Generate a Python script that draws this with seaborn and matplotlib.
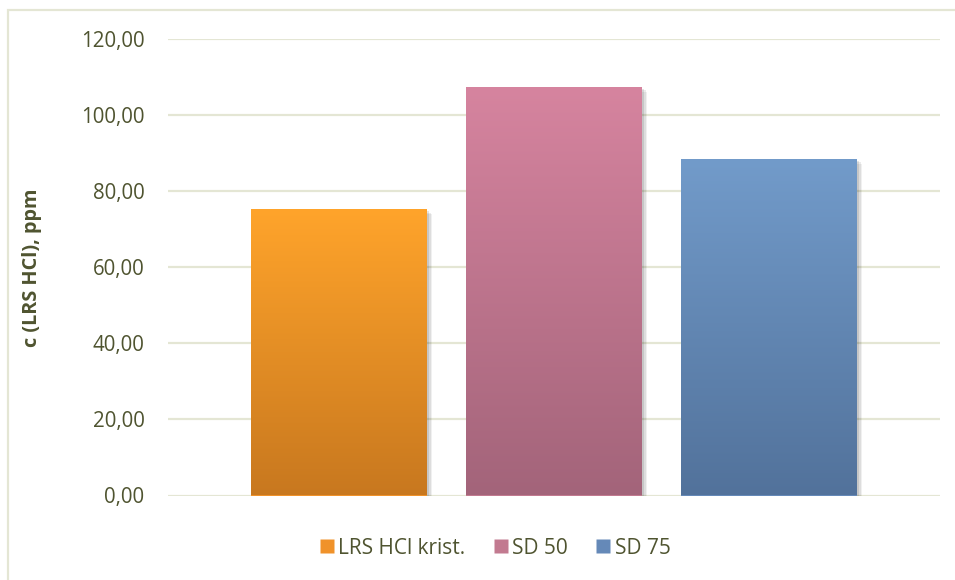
import numpy as np
import pandas as pd
import matplotlib
matplotlib.use("Agg")
import matplotlib.pyplot as plt
import matplotlib.patheffects as pe
from matplotlib.colors import LinearSegmentedColormap
from matplotlib.patches import Rectangle
from matplotlib.lines import Line2D
from matplotlib.ticker import FuncFormatter, MultipleLocator
import seaborn as sns

# ---- data ----
categories = ["c"]
series = ["LRS HCl krist.", "SD 50", "SD 75"]
values = [75.1, 107.2, 88.3]
ylabel = "c (LRS HCl), ppm"

top_colors = ["#FFA42B", "#D6849F", "#729BCA"]
bottom_colors = ["#C8781F", "#A3647A", "#52729B"]
mid_colors = ["#F0922A", "#C27A90", "#6589B8"]

text_color = "#4F5430"
grid_color = "#E4E6D4"

sns.set_theme(style="white")
plt.rcParams["font.family"] = ["Open Sans", "DejaVu Sans"]

W, H = 955, 580
fig = plt.figure(figsize=(W / 100, H / 100), dpi=100)
ax = fig.add_axes([168 / W, 1 - 495.5 / H, (940 - 168) / W, (495.5 - 39) / H])

df = pd.DataFrame({"cat": categories * len(series), "series": series, "value": values})
sns.barplot(data=df, x="cat", y="value", hue="series", palette=mid_colors,
            width=0.8355, gap=0.186, ax=ax, legend=False, saturation=1)

ax.set_xlim(-0.5, 0.5)
ax.set_ylim(0, 120)
ax.yaxis.set_major_locator(MultipleLocator(20))
ax.yaxis.set_major_formatter(FuncFormatter(lambda v, p: f"{v:.2f}".replace(".", ",")))
ax.grid(axis="y", color=grid_color, linewidth=1.6)
ax.set_axisbelow(True)
for s in ax.spines.values():
    s.set_visible(False)
ax.tick_params(axis="y", length=0, pad=17, labelsize=14.8, labelcolor=text_color)
ax.set_xticks([])
ax.set_xlabel("")
ax.set_ylabel(ylabel, fontsize=14.3, fontweight="bold", color=text_color)
ax.yaxis.set_label_coords(42 / W, 1 - 267.5 / H, transform=fig.transFigure)

# gradient fills
patches = [p for p in ax.patches if p.get_height() > 0]
patches.sort(key=lambda p: p.get_x())
for i, p in enumerate(patches):
    x0, y0 = p.get_x(), p.get_y()
    w, h = p.get_width(), p.get_height()
    cmap = LinearSegmentedColormap.from_list(f"g{i}", [bottom_colors[i], top_colors[i]])
    grad = np.linspace(0, 1, 256).reshape(-1, 1)
    ax.imshow(grad, cmap=cmap, origin="lower", extent=[x0, x0 + w, y0, y0 + h],
              aspect="auto", zorder=3, interpolation="bicubic")
    p.set_path_effects([
        pe.SimplePatchShadow(offset=(4, -3), shadow_rgbFace="black", alpha=0.06),
        pe.SimplePatchShadow(offset=(3, -2), shadow_rgbFace="black", alpha=0.08),
        pe.SimplePatchShadow(offset=(2, -1), shadow_rgbFace="black", alpha=0.10),
        pe.Normal(),
    ])
    p.set_zorder(2.5)
    p.set_edgecolor("none")
ax.set_xlim(-0.5, 0.5)
ax.set_ylim(0, 120)

# legend
handles = [Line2D([0], [0], marker="s", linestyle="none", markersize=9.5,
                  markerfacecolor=mid_colors[i], markeredgecolor="none", label=series[i])
           for i in range(len(series))]
leg = fig.legend(handles=handles, loc="center", bbox_to_anchor=(493.5 / W, 1 - 548 / H),
                 ncol=3, frameon=False, fontsize=15, handletextpad=0.05,
                 columnspacing=1.2, handlelength=1.0, borderaxespad=0)
for t in leg.get_texts():
    t.set_color(text_color)

# chart-area border
fig.patches.append(Rectangle((8 / W, -0.1), 1.2, 1 - 10 / H + 0.1,
                             transform=fig.transFigure, fill=False,
                             edgecolor=grid_color, linewidth=1.6))

fig.savefig("out.png", dpi=100)
